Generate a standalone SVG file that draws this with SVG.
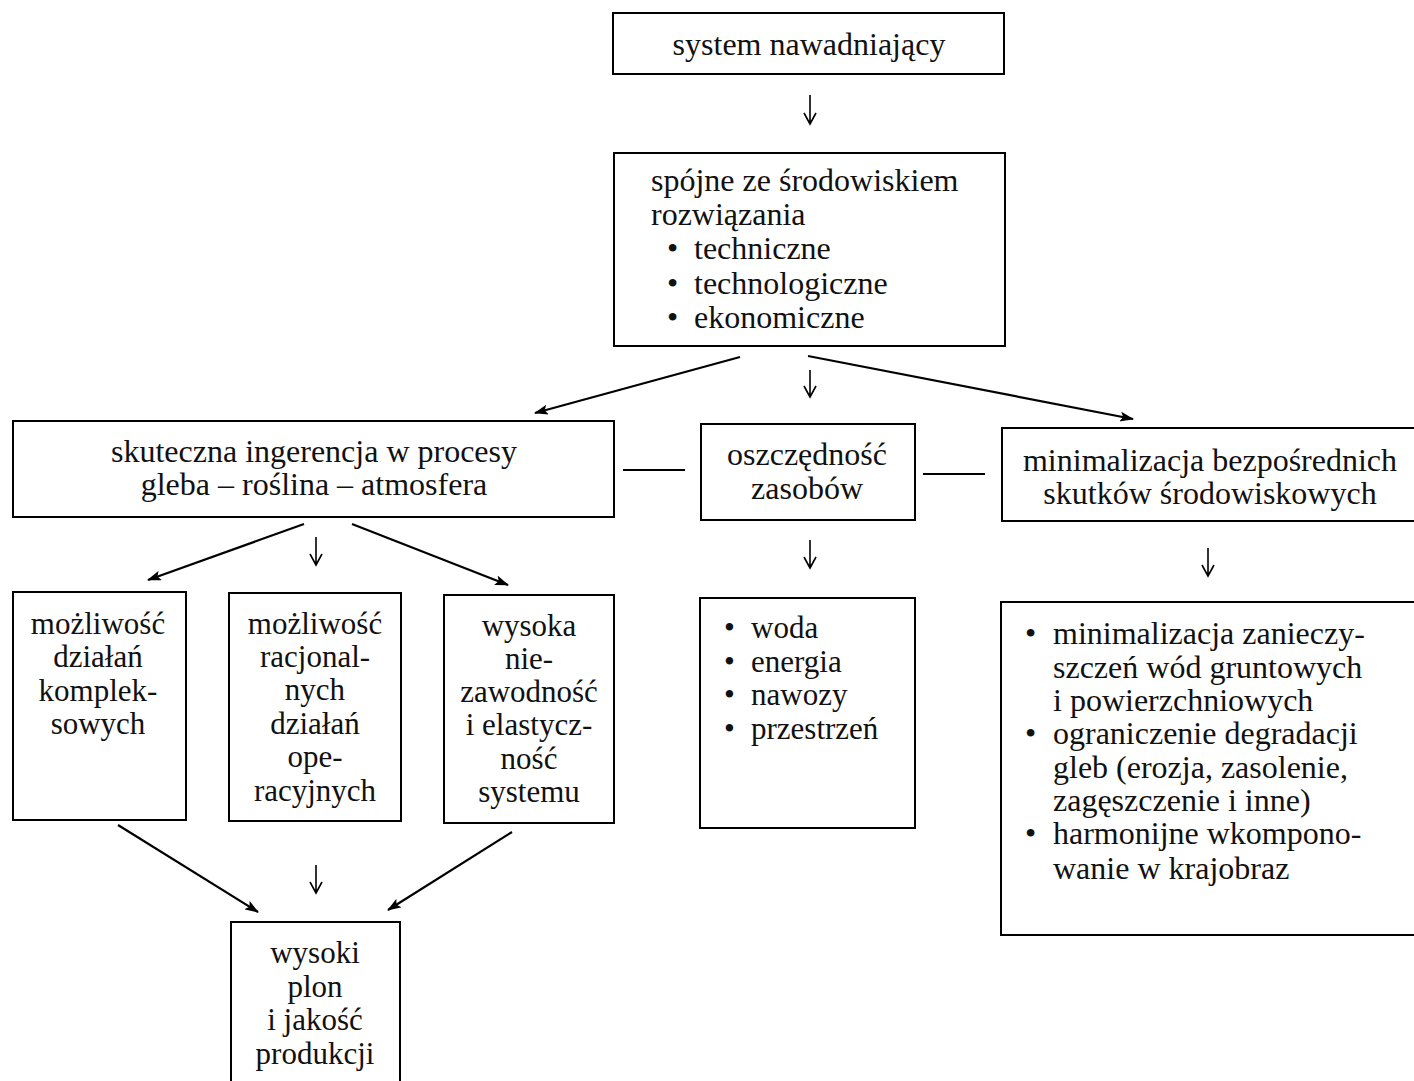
<svg xmlns="http://www.w3.org/2000/svg" width="1414" height="1081" viewBox="0 0 1414 1081">
<style>
.box{fill:#fff;stroke:#000;stroke-width:2}
.t{font-family:"Liberation Serif","Times New Roman",serif;font-size:31px;fill:#111}
.L{font-size:32px}
.c{text-anchor:middle}
.ln{stroke:#000;stroke-width:2.2;fill:none}
.dn{stroke:#000;stroke-width:1.6;fill:none}
</style>
<defs>
<marker id="ah" viewBox="0 0 14 10" refX="13" refY="5" markerWidth="14" markerHeight="10" markerUnits="userSpaceOnUse" orient="auto">
<path d="M0,0 L14,5 L0,10 L3,5 Z" fill="#000"/>
</marker>
</defs>
<rect width="1414" height="1081" fill="#fff"/>

<g id="connectors">
<path class="dn" d="M810,95 V124 M804,113 L810,124 L816,113"/>
<path class="ln" d="M740,357 L535,413" marker-end="url(#ah)"/>
<path class="dn" d="M810,370 V397 M804,386 L810,397 L816,386"/>
<path class="ln" d="M808,356 L1133,419" marker-end="url(#ah)"/>
<path class="ln" d="M623,470 H685"/>
<path class="ln" d="M923,474 H985"/>
<path class="ln" d="M304,524 L148,580" marker-end="url(#ah)"/>
<path class="dn" d="M316,537 V565 M310,554 L316,565 L322,554"/>
<path class="ln" d="M352,524 L508,585" marker-end="url(#ah)"/>
<path class="dn" d="M810,540 V568 M804,557 L810,568 L816,557"/>
<path class="dn" d="M1208,548 V576 M1202,565 L1208,576 L1214,565"/>
<path class="ln" d="M118,825 L258,912" marker-end="url(#ah)"/>
<path class="dn" d="M316,865 V893 M310,882 L316,893 L322,882"/>
<path class="ln" d="M512,832 L388,910" marker-end="url(#ah)"/>
</g>

<g id="n-system">
<rect class="box" x="613" y="13" width="391" height="61"/>
<text class="t L c" x="809" y="55">system nawadniający</text>
</g>

<g id="n-spojne">
<rect class="box" x="614" y="153" width="391" height="193"/>
<text class="t L" x="651" y="191">spójne ze środowiskiem</text>
<text class="t L" x="651" y="225">rozwiązania</text>
<text class="t L" x="667" y="259">•</text><text class="t L" x="694" y="259">techniczne</text>
<text class="t L" x="667" y="294">•</text><text class="t L" x="694" y="294">technologiczne</text>
<text class="t L" x="667" y="328">•</text><text class="t L" x="694" y="328">ekonomiczne</text>
</g>

<g id="n-skuteczna">
<rect class="box" x="13" y="421" width="601" height="96"/>
<text class="t L c" x="314" y="462">skuteczna ingerencja w procesy</text>
<text class="t L c" x="314" y="495">gleba – roślina – atmosfera</text>
</g>

<g id="n-oszczednosc">
<rect class="box" x="701" y="424" width="214" height="96"/>
<text class="t L c" x="807" y="465">oszczędność</text>
<text class="t L c" x="807" y="499">zasobów</text>
</g>

<g id="n-minimalizacja">
<rect class="box" x="1002" y="428" width="420" height="93"/>
<text class="t L c" x="1210" y="471">minimalizacja bezpośrednich</text>
<text class="t L c" x="1210" y="504">skutków środowiskowych</text>
</g>

<g id="n-kompleksowych">
<rect class="box" x="13" y="592" width="173" height="228"/>
<text class="t c" x="98" y="634">możliwość</text>
<text class="t c" x="98" y="667">działań</text>
<text class="t c" x="98" y="701">komplek-</text>
<text class="t c" x="98" y="734">sowych</text>
</g>

<g id="n-operacyjnych">
<rect class="box" x="229" y="593" width="172" height="228"/>
<text class="t c" x="315" y="634">możliwość</text>
<text class="t c" x="315" y="667">racjonal-</text>
<text class="t c" x="315" y="700">nych</text>
<text class="t c" x="315" y="734">działań</text>
<text class="t c" x="315" y="767">ope-</text>
<text class="t c" x="315" y="801">racyjnych</text>
</g>

<g id="n-niezawodnosc">
<rect class="box" x="444" y="595" width="170" height="228"/>
<text class="t c" x="529" y="636">wysoka</text>
<text class="t c" x="529" y="669">nie-</text>
<text class="t c" x="529" y="702">zawodność</text>
<text class="t c" x="529" y="735">i elastycz-</text>
<text class="t c" x="529" y="769">ność</text>
<text class="t c" x="529" y="802">systemu</text>
</g>

<g id="n-zasoby">
<rect class="box" x="700" y="598" width="215" height="230"/>
<text class="t" x="724" y="638">•</text><text class="t" x="751" y="638">woda</text>
<text class="t" x="724" y="672">•</text><text class="t" x="751" y="672">energia</text>
<text class="t" x="724" y="705">•</text><text class="t" x="751" y="705">nawozy</text>
<text class="t" x="724" y="739">•</text><text class="t" x="751" y="739">przestrzeń</text>
</g>

<g id="n-skutki">
<rect class="box" x="1001" y="602" width="421" height="333"/>
<text class="t L" x="1025" y="644">•</text><text class="t L" x="1053" y="644">minimalizacja zanieczy-</text>
<text class="t L" x="1053" y="678">szczeń wód gruntowych</text>
<text class="t L" x="1053" y="711">i powierzchniowych</text>
<text class="t L" x="1025" y="744">•</text><text class="t L" x="1053" y="744">ograniczenie degradacji</text>
<text class="t L" x="1053" y="778">gleb (erozja, zasolenie,</text>
<text class="t L" x="1053" y="811">zagęszczenie i inne)</text>
<text class="t L" x="1025" y="844">•</text><text class="t L" x="1053" y="844">harmonijne wkompono-</text>
<text class="t L" x="1053" y="879">wanie w krajobraz</text>
</g>

<g id="n-plon">
<rect class="box" x="231" y="922" width="169" height="180"/>
<text class="t c" x="315" y="963">wysoki</text>
<text class="t c" x="315" y="997">plon</text>
<text class="t c" x="315" y="1030">i jakość</text>
<text class="t c" x="315" y="1064">produkcji</text>
</g>
</svg>
